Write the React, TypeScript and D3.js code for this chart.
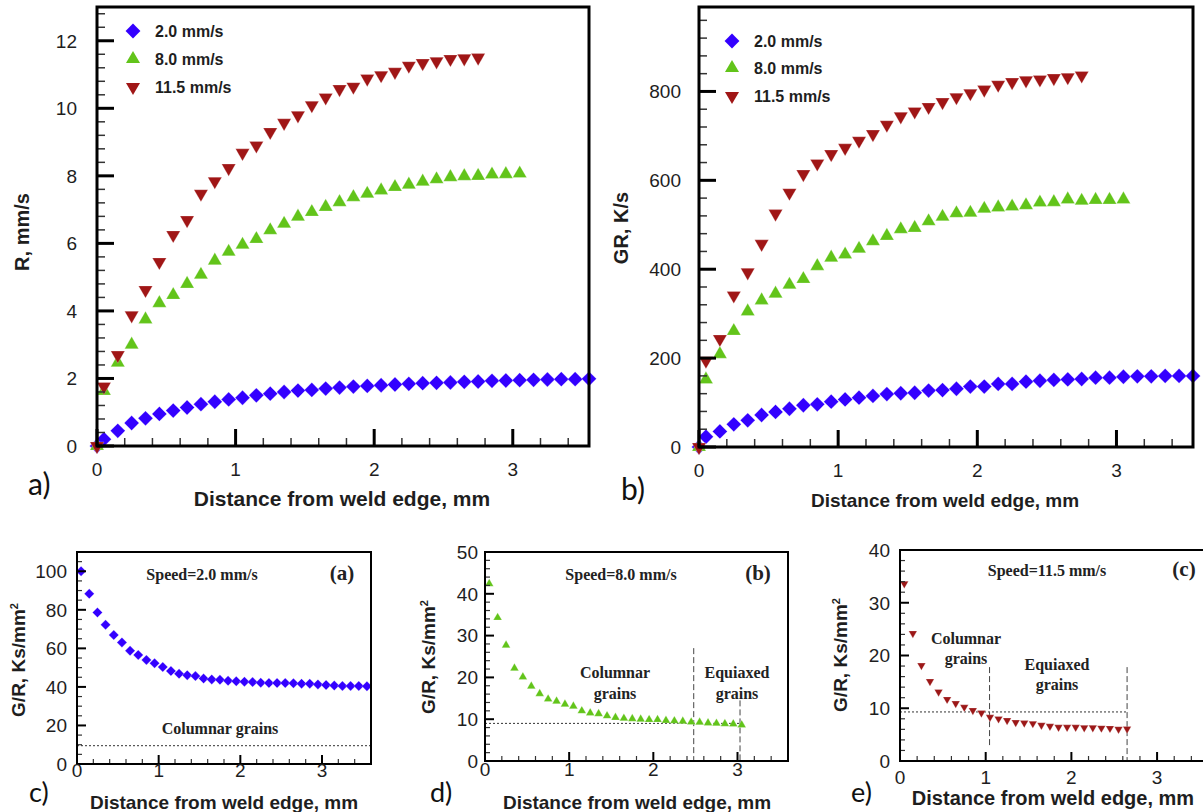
import React from 'react';
import * as d3 from 'd3';

// ---------- data ----------
const DIST = [0, 0.05, 0.15, 0.25, 0.35, 0.45, 0.55, 0.65, 0.75, 0.85, 0.95, 1.05, 1.15, 1.25, 1.35, 1.45, 1.55, 1.65, 1.75, 1.85, 1.95, 2.05, 2.15, 2.25, 2.35, 2.45, 2.55, 2.65, 2.75, 2.85, 2.95, 3.05, 3.15, 3.25, 3.35, 3.45, 3.55];

const LEGEND = ['2.0 mm/s', '8.0 mm/s', '11.5 mm/s'];

// a) growth rate R, mm/s
const R_2 = [0, 0.2, 0.45, 0.68, 0.82, 0.95, 1.05, 1.14, 1.24, 1.31, 1.38, 1.43, 1.5, 1.55, 1.6, 1.64, 1.66, 1.7, 1.73, 1.76, 1.78, 1.8, 1.82, 1.84, 1.86, 1.87, 1.88, 1.9, 1.91, 1.93, 1.94, 1.95, 1.96, 1.97, 1.98, 1.98, 1.99];
const R_8 = [0, 1.63, 2.47, 3.0, 3.75, 4.23, 4.47, 4.8, 5.07, 5.49, 5.75, 5.96, 6.13, 6.39, 6.58, 6.79, 6.93, 7.08, 7.22, 7.37, 7.47, 7.57, 7.67, 7.74, 7.83, 7.9, 7.96, 7.99, 8.0, 8.04, 8.05, 8.07];
const R_115 = [0, 1.76, 2.69, 3.87, 4.62, 5.45, 6.25, 6.69, 7.47, 7.84, 8.23, 8.68, 8.9, 9.3, 9.57, 9.79, 10.09, 10.32, 10.57, 10.64, 10.88, 10.98, 11.08, 11.26, 11.34, 11.39, 11.46, 11.48, 11.5];

// b) cooling rate GR, K/s
const GR_2 = [0, 23, 35, 51, 60, 72, 79, 86, 94, 96, 102, 107, 111, 115, 119, 121, 122, 127, 128, 131, 136, 136, 142, 142, 147, 149, 151, 152, 153, 156, 156, 158, 159, 159, 160, 160, 160];
const GR_8 = [0, 152, 209, 261, 305, 330, 345, 365, 378, 407, 426, 433, 446, 463, 475, 490, 493, 508, 518, 526, 527, 536, 539, 541, 544, 550, 551, 557, 554, 556, 556, 557];
const GR_115 = [0, 194, 243, 341, 393, 457, 525, 572, 614, 638, 659, 673, 689, 704, 725, 744, 755, 765, 776, 787, 796, 804, 815, 821, 825, 827, 830, 832, 836];

// c-e) G/R, Ks/mm^2 (first point at 0.05 mm)
const GOR_2 = [100, 88.3, 78.6, 72.2, 66.9, 63.1, 58.8, 56.6, 54, 52.3, 50.3, 48.2, 46.8, 46.1, 45.6, 44.3, 43.9, 43.7, 43.2, 42.9, 42.7, 42.5, 42.2, 42, 42, 42, 41.9, 41.7, 41.7, 41.3, 41, 40.7, 40.5, 40.5, 40.5, 40.3];
const GOR_8 = [42.4, 34.3, 27.7, 22.2, 20.1, 17.9, 16.1, 14.8, 14.3, 13.6, 13.1, 12.0, 11.5, 11.3, 10.8, 10.4, 10.2, 10.1, 10.0, 9.9, 9.9, 9.7, 9.6, 9.5, 9.3, 9.25, 9.1, 9.0, 8.9, 8.85, 8.6];
const GOR_115 = [33.6, 24.2, 18.1, 15.1, 13.1, 11.7, 10.9, 10.2, 9.6, 9.1, 8.3, 8.0, 7.7, 7.3, 7.2, 7.1, 6.8, 6.6, 6.4, 6.4, 6.4, 6.3, 6.3, 6.25, 6.2, 6.05, 6.1];

const X_TICKS = [0, 1, 2, 3];
const R_TICKS = [0, 2, 4, 6, 8, 10, 12];
const GR_TICKS = [0, 200, 400, 600, 800];
const GOR2_TICKS = [0, 20, 40, 60, 80, 100];
const GOR8_TICKS = [0, 10, 20, 30, 40, 50];
const GOR115_TICKS = [0, 10, 20, 30, 40];

// ---------- styles ----------
const BLUE = '#3300ff';
const GREEN = '#62c41a';
const RED = '#a01616';
const SANS = '"Liberation Sans", Arial, sans-serif';
const SERIF = '"Liberation Serif", "Times New Roman", serif';
const LETTER = 'Lato, "Open Sans", sans-serif';
const INK = '#1e1e1e';

type Shape = 'diamond' | 'up' | 'down';
type Series = { xs: number[]; ys: number[]; shape: Shape; color: string; size: number };

function symPath(shape: Shape, size: number) {
  return shape === 'diamond'
    ? (d3.symbol(d3.symbolSquare, size)() as string)
    : (d3.symbol(d3.symbolTriangle, size)() as string);
}
function symTransform(shape: Shape, x: number, y: number) {
  if (shape === 'diamond') return `translate(${x},${y}) rotate(45)`;
  if (shape === 'down') return `translate(${x},${y}) rotate(180)`;
  return `translate(${x},${y})`;
}

type PanelProps = {
  x0: number; x1: number; y0: number; y1: number;
  xMax: number; yMax: number;
  yTicks: number[]; yMinorStep: number;
  frameW: number; majLen: number; majW: number; minLen: number; minW: number;
  tickFont: number; yLabelX: number; xLabelY: number;
  series: Series[];
  extras?: (x: d3.ScaleLinear<number, number>, y: d3.ScaleLinear<number, number>) => React.ReactNode;
};

function Panel(p: PanelProps) {
  const x = d3.scaleLinear().domain([0, p.xMax]).range([p.x0, p.x1]);
  const y = d3.scaleLinear().domain([0, p.yMax]).range([p.y1, p.y0]);
  const isMajor = (arr: number[], v: number) => arr.some((t) => Math.abs(t - v) < 1e-6);
  const yMinor = d3.range(0, p.yMax + 1e-9, p.yMinorStep).filter((v) => !isMajor(p.yTicks, v) && y(v) > p.y0 + 2);
  const xMinor = d3.range(0, p.xMax + 1e-9, 0.2).filter((v) => !isMajor(X_TICKS, v) && x(v) < p.x1 - 2);
  const clipId = `clip-${p.x0}-${p.y0}`;
  return (
    <g>
      <defs>
        <clipPath id={clipId}>
          <rect x={p.x0 - 8} y={p.y0 - 8} width={p.x1 - p.x0 + 16} height={p.y1 - p.y0 + 16} />
        </clipPath>
      </defs>
      {p.extras && p.extras(x, y)}
      <g clipPath={`url(#${clipId})`}>
        {p.series.map((s, si) => {
          const d = symPath(s.shape, s.size);
          return (
            <g key={si}>
              {s.xs.map((xv, i) => (
                <path key={i} d={d} transform={symTransform(s.shape, x(xv), y(s.ys[i]))} fill={s.color} stroke="#ffffff" strokeWidth={0.4} strokeOpacity={0.6} />
              ))}
            </g>
          );
        })}
      </g>
      {/* minor ticks */}
      {yMinor.map((v, i) => (
        <line key={'ym' + i} x1={p.x0} x2={p.x0 + p.minLen} y1={y(v)} y2={y(v)} stroke="#333" strokeWidth={p.minW} />
      ))}
      {xMinor.map((v, i) => (
        <line key={'xm' + i} x1={x(v)} x2={x(v)} y1={p.y1} y2={p.y1 - p.minLen} stroke="#333" strokeWidth={p.minW} />
      ))}
      {/* major ticks */}
      {p.yTicks.map((v, i) => (
        <line key={'yM' + i} x1={p.x0} x2={p.x0 + p.majLen} y1={y(v)} y2={y(v)} stroke="#000" strokeWidth={p.majW} />
      ))}
      {X_TICKS.map((v, i) => (
        <line key={'xM' + i} x1={x(v)} x2={x(v)} y1={p.y1} y2={p.y1 - p.majLen} stroke="#000" strokeWidth={p.majW} />
      ))}
      <rect x={p.x0} y={p.y0} width={p.x1 - p.x0} height={p.y1 - p.y0} fill="none" stroke="#000" strokeWidth={p.frameW} />
      {/* tick labels */}
      {p.yTicks.map((v, i) => (
        <text key={'yl' + i} x={p.yLabelX} y={y(v)} dy="0.36em" textAnchor="end" fontFamily={SANS} fontSize={p.tickFont} fill={INK}>{v}</text>
      ))}
      {X_TICKS.map((v, i) => (
        <text key={'xl' + i} x={x(v)} y={p.xLabelY} dy="0.36em" textAnchor="middle" fontFamily={SANS} fontSize={p.tickFont} fill={INK}>{v}</text>
      ))}
    </g>
  );
}

function Legend({ x, ys }: { x: number; ys: number[] }) {
  const shapes: Shape[] = ['diamond', 'up', 'down'];
  const colors = [BLUE, GREEN, RED];
  const sizes = [110, 85, 85];
  return (
    <g>
      {LEGEND.map((t, i) => (
        <g key={i}>
          <path d={symPath(shapes[i], sizes[i])} transform={symTransform(shapes[i], x, ys[i])} fill={colors[i]} />
          <text x={x + 22} y={ys[i]} dy="0.36em" fontFamily={SANS} fontWeight="bold" fontSize={16} fill={INK}>{t}</text>
        </g>
      ))}
    </g>
  );
}

function YLabel({ cx, cy, size, children }: { cx: number; cy: number; size: number; children: React.ReactNode }) {
  return (
    <text transform={`translate(${cx},${cy}) rotate(-90)`} textAnchor="middle" dy="0.36em" fontFamily={SANS} fontWeight="bold" fontSize={size} fill={INK}>{children}</text>
  );
}

function XLabel({ cx, y, size }: { cx: number; y: number; size: number }) {
  return (
    <text x={cx} y={y} textAnchor="middle" dy="0.36em" fontFamily={SANS} fontWeight="bold" fontSize={size} fill={INK}>Distance from weld edge, mm</text>
  );
}

function Letter({ x, y, t, size = 30 }: { x: number; y: number; t: string; size?: number }) {
  return <text x={x} y={y} dy="0.36em" fontFamily={LETTER} fontSize={size} fill="#111">{t}</text>;
}

const GorLabel = () => (
  <>
    G/R, Ks/mm<tspan dy={-7} fontSize={11}>2</tspan>
  </>
);

export default function App() {
  const top = { frameW: 3, majLen: 17, majW: 3, minLen: 8, minW: 1.5, tickFont: 19 };
  const bot = { frameW: 2, majLen: 9, majW: 2, minLen: 5, minW: 1.2, tickFont: 19 };
  const d1 = DIST.slice(1);
  const dotted = { stroke: '#333', strokeWidth: 1, strokeDasharray: '2,2' };
  const dashed = { stroke: '#444', strokeWidth: 1, strokeDasharray: '6,3' };
  const note = { fontFamily: SERIF, fontWeight: 'bold' as const, fontSize: 16, fill: '#222', textAnchor: 'middle' as const };
  return (
    <svg width={1203} height={812} style={{ position: 'absolute', left: 0, top: 0, background: '#fff' }}>
      <rect width={1203} height={812} fill="#fff" />
      {/* a) */}
      <Panel x0={97} x1={589} y0={7} y1={446} xMax={3.55} yMax={13} yTicks={R_TICKS} yMinorStep={0.4}
        {...top} yLabelX={77} xLabelY={469}
        series={[
          { xs: DIST, ys: R_2, shape: 'diamond', color: BLUE, size: 110 },
          { xs: DIST.slice(0, R_8.length), ys: R_8, shape: 'up', color: GREEN, size: 85 },
          { xs: DIST.slice(0, R_115.length), ys: R_115, shape: 'down', color: RED, size: 85 },
        ]} />
      <Legend x={133} ys={[31, 59, 87]} />
      <YLabel cx={22} cy={232} size={20}>R, mm/s</YLabel>
      <XLabel cx={342} y={498} size={21} />
      <Letter x={28} y={484} t="a)" />

      {/* b) */}
      <Panel x0={699} x1={1193} y0={7} y1={447} xMax={3.55} yMax={990} yTicks={GR_TICKS} yMinorStep={40}
        {...top} yLabelX={681} xLabelY={470}
        series={[
          { xs: DIST, ys: GR_2, shape: 'diamond', color: BLUE, size: 110 },
          { xs: DIST.slice(0, GR_8.length), ys: GR_8, shape: 'up', color: GREEN, size: 85 },
          { xs: DIST.slice(0, GR_115.length), ys: GR_115, shape: 'down', color: RED, size: 85 },
        ]} />
      <Legend x={732} ys={[41, 68, 96]} />
      <YLabel cx={621} cy={228} size={20}>GR, K/s</YLabel>
      <XLabel cx={945} y={500} size={19} />
      <Letter x={621} y={489} t="b)" />

      {/* c) */}
      <Panel x0={77} x1={371} y0={552} y1={764} xMax={3.6} yMax={110} yTicks={GOR2_TICKS} yMinorStep={5}
        {...bot} yLabelX={67} xLabelY={770}
        series={[{ xs: d1, ys: GOR_2, shape: 'diamond', color: BLUE, size: 50 }]}
        extras={(x, y) => (
          <g>
            <line x1={x(0)} x2={x(3.6)} y1={y(9.5)} y2={y(9.5)} {...dotted} />
            <text x={202} y={580} {...note}>Speed=2.0 mm/s</text>
            <text x={342} y={580} {...note} fontSize={21}>(a)</text>
            <text x={220} y={734} {...note}>Columnar grains</text>
          </g>
        )} />
      <YLabel cx={18} cy={660} size={19}><GorLabel /></YLabel>
      <XLabel cx={224} y={802} size={19} />
      <Letter x={29} y={792} t="c)" size={27} />

      {/* d) */}
      <Panel x0={485} x1={788} y0={552} y1={761} xMax={3.6} yMax={50} yTicks={GOR8_TICKS} yMinorStep={2}
        {...bot} yLabelX={478} xLabelY={769}
        series={[{ xs: d1.slice(0, GOR_8.length), ys: GOR_8, shape: 'up', color: GREEN, size: 32 }]}
        extras={(x, y) => (
          <g>
            <line x1={x(0)} x2={x(3.05)} y1={y(9.0)} y2={y(9.0)} {...dotted} />
            <line x1={x(2.48)} x2={x(2.48)} y1={y(27)} y2={y(0)} {...dashed} />
            <line x1={x(3.03)} x2={x(3.03)} y1={y(14.5)} y2={y(0)} {...dashed} />
            <text x={621} y={580} {...note}>Speed=8.0 mm/s</text>
            <text x={758} y={580} {...note} fontSize={21}>(b)</text>
            <text x={615} y={678} {...note}>Columnar</text>
            <text x={615} y={699} {...note}>grains</text>
            <text x={737} y={678} {...note}>Equiaxed</text>
            <text x={737} y={699} {...note}>grains</text>
          </g>
        )} />
      <YLabel cx={428} cy={657} size={19}><GorLabel /></YLabel>
      <XLabel cx={637} y={802} size={19} />
      <Letter x={430} y={792} t="d)" size={27} />

      {/* e) */}
      <Panel x0={900} x1={1208.5} y0={550} y1={761} xMax={3.6} yMax={40} yTicks={GOR115_TICKS} yMinorStep={2}
        {...bot} yLabelX={890} xLabelY={777}
        series={[{ xs: d1.slice(0, GOR_115.length), ys: GOR_115, shape: 'down', color: '#9c1818', size: 30 }]}
        extras={(x, y) => (
          <g>
            <line x1={x(0)} x2={x(2.65)} y1={y(9.3)} y2={y(9.3)} {...dotted} />
            <line x1={x(1.045)} x2={x(1.045)} y1={y(17.8)} y2={y(2.6)} {...dashed} />
            <line x1={x(2.65)} x2={x(2.65)} y1={y(17.8)} y2={y(0)} {...dashed} />
            <text x={1047} y={576} {...note}>Speed=11.5 mm/s</text>
            <text x={1184} y={576} {...note} fontSize={21}>(c)</text>
            <text x={966} y={644} {...note}>Columnar</text>
            <text x={966} y={664} {...note}>grains</text>
            <text x={1057} y={670} {...note}>Equiaxed</text>
            <text x={1057} y={690} {...note}>grains</text>
          </g>
        )} />
      <YLabel cx={840} cy={655} size={19}><GorLabel /></YLabel>
      <XLabel cx={1053} y={798} size={20} />
      <Letter x={851} y={792} t="e)" size={27} />
    </svg>
  );
}
